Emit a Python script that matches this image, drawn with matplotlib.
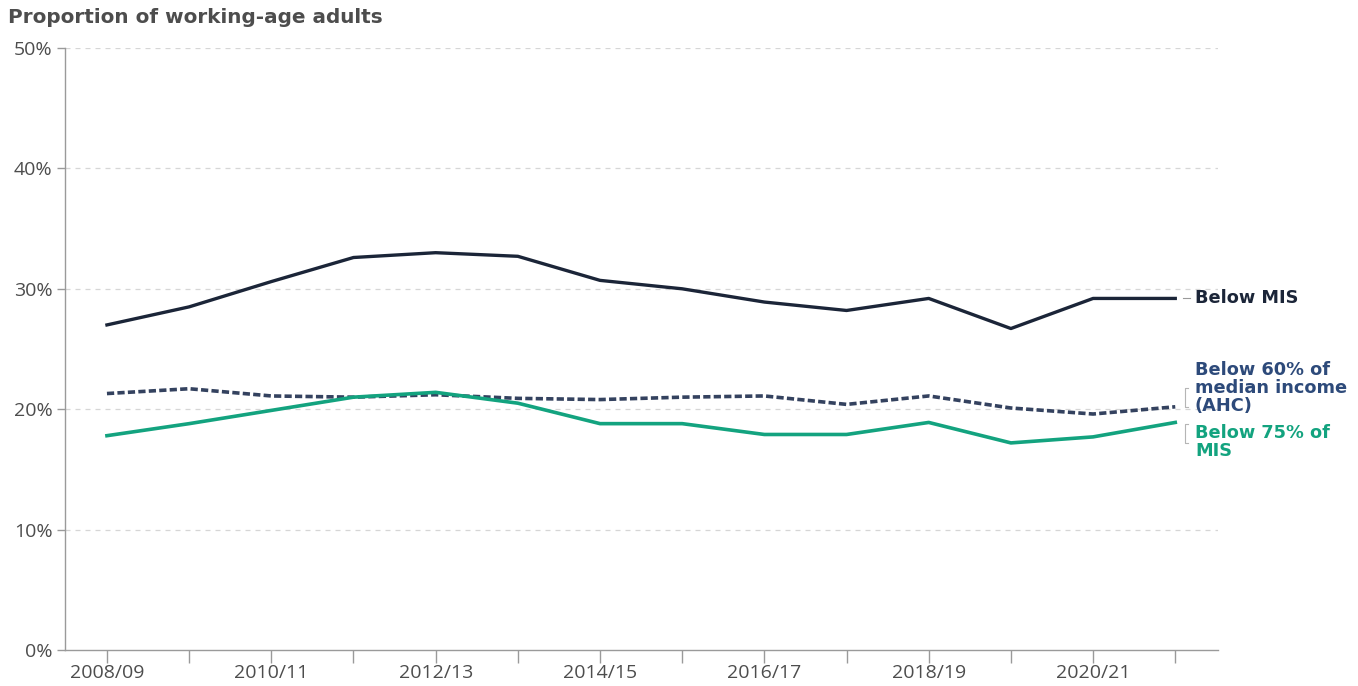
import matplotlib.pyplot as plt
import matplotlib as mpl

YEARS = ["2008/09", "2009/10", "2010/11", "2011/12", "2012/13", "2013/14", "2014/15",
         "2015/16", "2016/17", "2017/18", "2018/19", "2019/20", "2020/21", "2021/22"]
BELOW_MIS = [27.0, 28.5, 30.6, 32.6, 33.0, 32.7, 30.7, 30.0, 28.9, 28.2, 29.2, 26.7, 29.2, 29.2]
BELOW_60_MEDIAN = [21.3, 21.7, 21.1, 21.0, 21.2, 20.9, 20.8, 21.0, 21.1, 20.4, 21.1, 20.1, 19.6, 20.2]
BELOW_75_MIS = [17.8, 18.8, 19.9, 21.0, 21.4, 20.5, 18.8, 18.8, 17.9, 17.9, 18.9, 17.2, 17.7, 18.9]
Y_TICKS = [0, 10, 20, 30, 40, 50]

NAVY = "#1b2538"
SLATE = "#34425f"
SLATE_TEXT = "#2d4a7a"
GREEN = "#13a37f"
TEXT = "#4d4d4d"
AXIS = "#9a9a9a"
GRID = "#d6d6d6"
BOLD_FONT = ["DejaVu Sans"]

mpl.rcParams["font.family"] = ["Open Sans", "DejaVu Sans"]

fig = plt.figure(figsize=(13.58, 6.86), dpi=100)
ax = fig.add_axes([0.0479, 0.0525, 0.849, 0.8775])

x = list(range(len(YEARS)))
ax.plot(x, BELOW_MIS, color=NAVY, lw=2.4)
ax.plot(x, BELOW_60_MEDIAN, color=SLATE, lw=2.6, linestyle=(0, (2.0, 0.9)))
ax.plot(x, BELOW_75_MIS, color=GREEN, lw=2.6)

ax.set_xlim(-0.51, 13.52)
ax.set_ylim(0, 50)
ax.set_yticks(Y_TICKS)
ax.set_yticklabels([f"{v}%" for v in Y_TICKS])
ax.set_xticks(x)
ax.set_xticklabels([y if i % 2 == 0 else "" for i, y in enumerate(YEARS)])

for v in Y_TICKS[1:]:
    ax.axhline(v, color=GRID, lw=0.9, linestyle=(0, (4, 4)), zorder=0)

for side in ("top", "right"):
    ax.spines[side].set_visible(False)
for side in ("left", "bottom"):
    ax.spines[side].set_color(AXIS)
    ax.spines[side].set_linewidth(1.0)
ax.tick_params(axis="both", colors=AXIS, labelcolor=TEXT, labelsize=14)
ax.tick_params(axis="x", length=9, width=1.0, pad=1)
ax.tick_params(axis="y", length=6, width=1.0, pad=3)

fig.text(0.006, 0.974, "Proportion of working-age adults", fontsize=14.4,
         fontweight="bold", color=TEXT, ha="left", va="center", family=BOLD_FONT)

# end labels
last = len(YEARS) - 1
ax.plot([last + 0.1, last + 0.18], [BELOW_MIS[-1], BELOW_MIS[-1]], color=AXIS, lw=0.8,
        clip_on=False)
ax.text(last + 0.24, BELOW_MIS[-1], "Below MIS", color=NAVY, fontsize=12.8,
        fontweight="bold", ha="left", va="center", clip_on=False, family=BOLD_FONT)

ax.plot([last + 0.15, last + 0.12, last + 0.12, last + 0.15], [21.8, 21.8, 20.2, 20.2],
        color="#b5b5b5", lw=0.8, clip_on=False)
ax.text(last + 0.24, 21.8, "Below 60% of\nmedian income\n(AHC)", color=SLATE_TEXT,
        fontsize=12.8, fontweight="bold", ha="left", va="center", linespacing=1.0,
        clip_on=False, family=BOLD_FONT)

ax.plot([last + 0.15, last + 0.12, last + 0.12, last + 0.15], [18.8, 18.8, 17.2, 17.2],
        color="#b5b5b5", lw=0.8, clip_on=False)
ax.text(last + 0.24, 17.3, "Below 75% of\nMIS", color=GREEN, fontsize=12.8,
        fontweight="bold", ha="left", va="center", linespacing=1.0, clip_on=False,
        family=BOLD_FONT)

fig.savefig("out.png", dpi=100)
